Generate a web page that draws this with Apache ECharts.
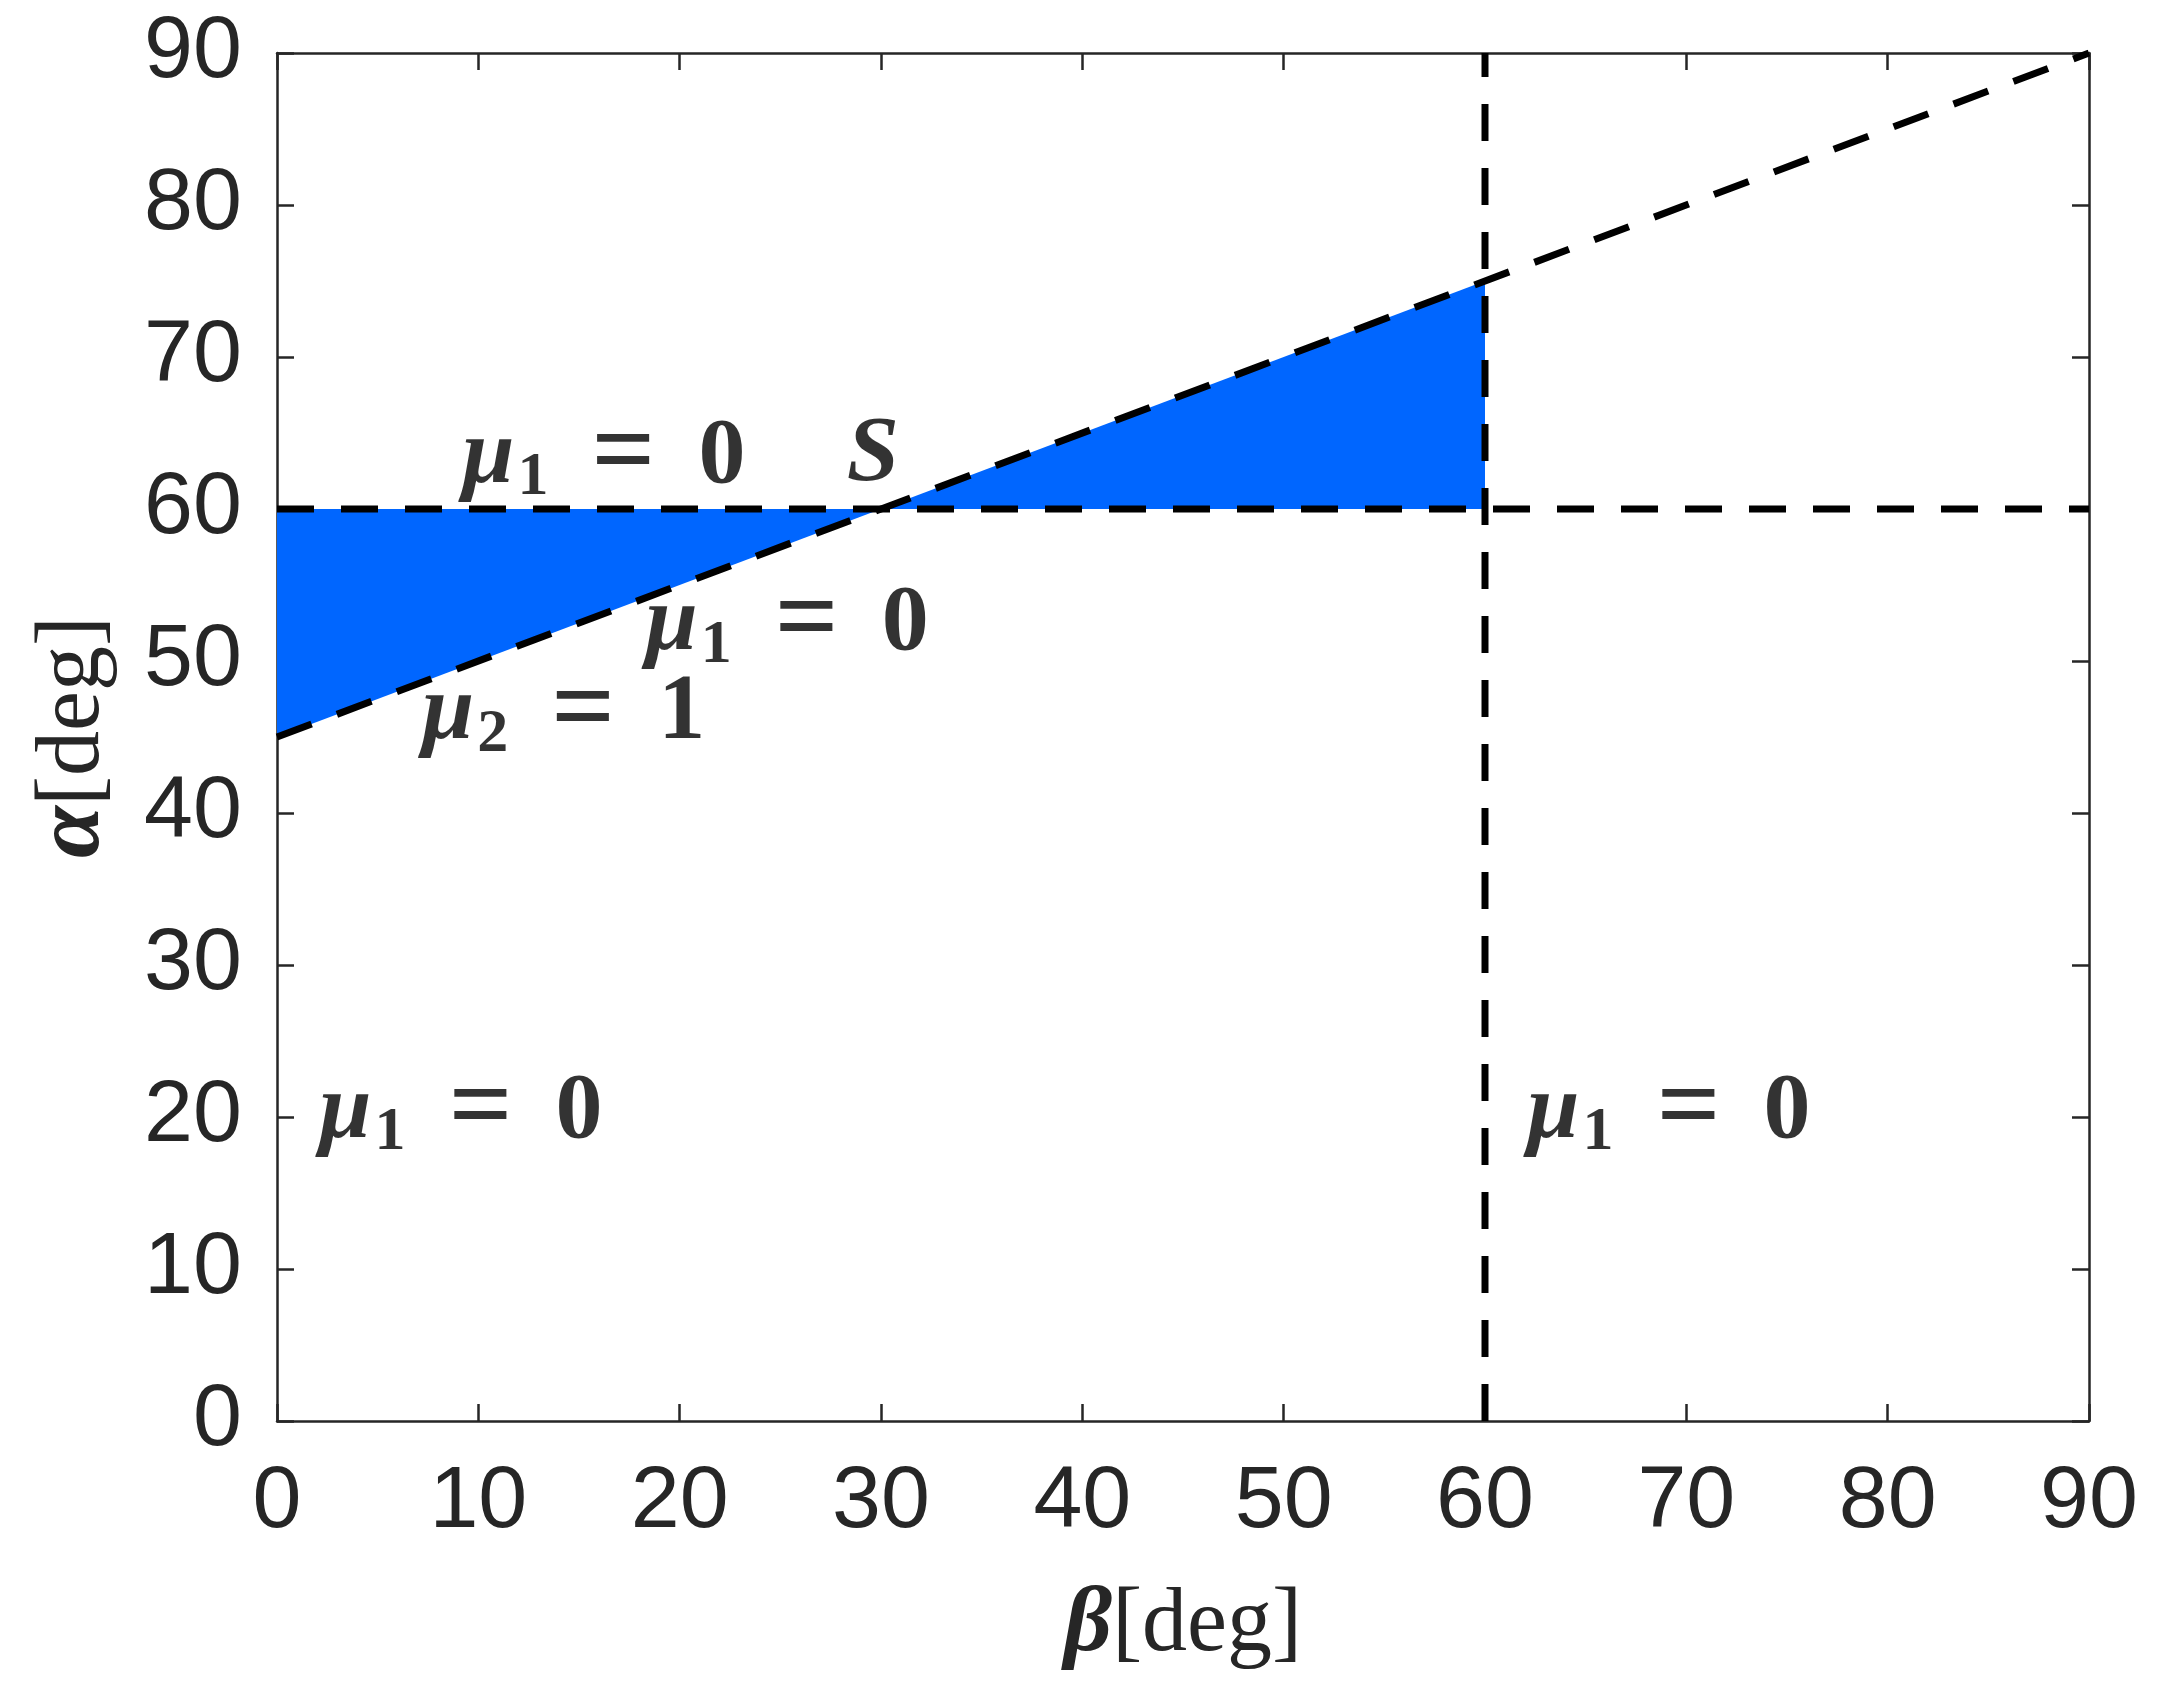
<!DOCTYPE html>
<html>
<head>
<meta charset="utf-8">
<script src="https://cdn.jsdelivr.net/npm/echarts@6/dist/echarts.min.js"></script>
<style>
  html, body { margin: 0; padding: 0; background: #fff; }
  #chart { width: 2158px; height: 1694px; }
</style>
</head>
<body>
<div id="chart"></div>
<script>
// axis ticks (degrees)
var axisMin = 0, axisMax = 90, axisStep = 10;

// shaded regions, [beta, alpha] corners
var regionLeft = [[0, 60], [30, 60], [0, 45]];
var regionRight = [[30, 60], [60, 75], [60, 60]];

// dashed boundary lines
var lineMu1 = [[0, 60], [90, 60]];
var lineMu2 = [[0, 45], [90, 90]];
var lineBeta60 = [[60, 0], [60, 90]];

// annotations: [beta, alpha, kind, subscript, value]
var notes = [
    [9.2, 63.4, 'mu', '1', '0'],
    [28.3, 63.5, 'S', '', ''],
    [18.3, 52.4, 'mu', '1', '0'],
    [7.2, 46.5, 'mu', '2', '1'],
    [2.1, 20.3, 'mu', '1', '0'],
    [62.1, 20.3, 'mu', '1', '0']
];

var regions = [regionLeft, regionRight];
var ink = '#262626';
var sans = '"Liberation Sans", Arial, sans-serif';
var serif = '"Liberation Serif", "DejaVu Serif", serif';

var myChart = echarts.init(document.getElementById('chart'));

function axisBase(pos) {
    return {
        type: 'value',
        position: pos,
        min: axisMin,
        max: axisMax,
        interval: axisStep,
        axisLine: { show: true, onZero: false, lineStyle: { color: ink, width: 2.5 } },
        axisTick: { show: true, inside: true, length: 17, lineStyle: { color: ink, width: 2.5 } },
        splitLine: { show: false },
        axisLabel: { show: false }
    };
}

var nameRich = {
    g: { fontFamily: serif, fontStyle: 'italic', fontWeight: 'bold', fontSize: 94, color: ink },
    t: { fontFamily: serif, fontSize: 90, color: ink }
};

var xMain = axisBase('bottom');
xMain.axisLabel = { show: true, color: ink, fontSize: 88, fontFamily: sans, margin: 38 };
xMain.name = '{g|β}{t|[deg]}';
xMain.nameLocation = 'middle';
xMain.nameGap = 158;
xMain.nameTextStyle = { rich: nameRich };

var yMain = axisBase('left');
yMain.axisLabel = { show: true, color: ink, fontSize: 88, fontFamily: sans, margin: 35 };
yMain.name = '{g|α}{t|[deg]}';
yMain.nameLocation = 'middle';
yMain.nameGap = 156;
yMain.nameTextStyle = { rich: nameRich };

var dash = { color: '#000', width: 7, type: [37, 27], cap: 'butt' };

option = {
    animation: false,
    backgroundColor: '#fff',
    grid: { left: 277, right: 69, top: 53, bottom: 273 },
    xAxis: [xMain, axisBase('top')],
    yAxis: [yMain, axisBase('right')],
    series: [
        {
            type: 'custom',
            z: 1,
            data: regions.map(function (r, i) { return [i]; }),
            renderItem: function (params, api) {
                var pts = regions[params.dataIndex].map(function (p) { return api.coord(p); });
                return { type: 'polygon', shape: { points: pts }, style: { fill: '#0066FF' } };
            }
        },
        { type: 'line', z: 3, data: lineMu1, showSymbol: false, lineStyle: dash },
        { type: 'line', z: 3, data: lineMu2, showSymbol: false, lineStyle: dash },
        { type: 'line', z: 3, data: lineBeta60, showSymbol: false, lineStyle: dash },
        {
            type: 'scatter',
            z: 5,
            symbolSize: 0,
            data: notes.map(function (n) { return [n[0], n[1]]; }),
            label: {
                show: true,
                position: 'right',
                distance: 0,
                formatter: function (p) {
                    var n = notes[p.dataIndex];
                    if (n[2] === 'S') return '{mu|S}';
                    return '{mu|μ}{sub|' + n[3] + '}{eq|=}{num|' + n[4] + '}';
                },
                rich: {
                    mu: { fontFamily: serif, fontStyle: 'italic', fontWeight: 'bold', fontSize: 94, color: '#000', lineHeight: 104 },
                    sub: { fontFamily: serif, fontWeight: 'bold', fontSize: 62, color: '#000', padding: [42, 0, 0, 3] },
                    eq: { fontFamily: serif, fontWeight: 'bold', fontSize: 112, color: '#000', width: 150, align: 'center', lineHeight: 104 },
                    num: { fontFamily: serif, fontWeight: 'bold', fontSize: 94, color: '#000', lineHeight: 104 }
                }
            }
        }
    ]
};

myChart.setOption(option);
window.addEventListener('resize', function () {
    myChart.resize();
});
</script>
</body>
</html>
